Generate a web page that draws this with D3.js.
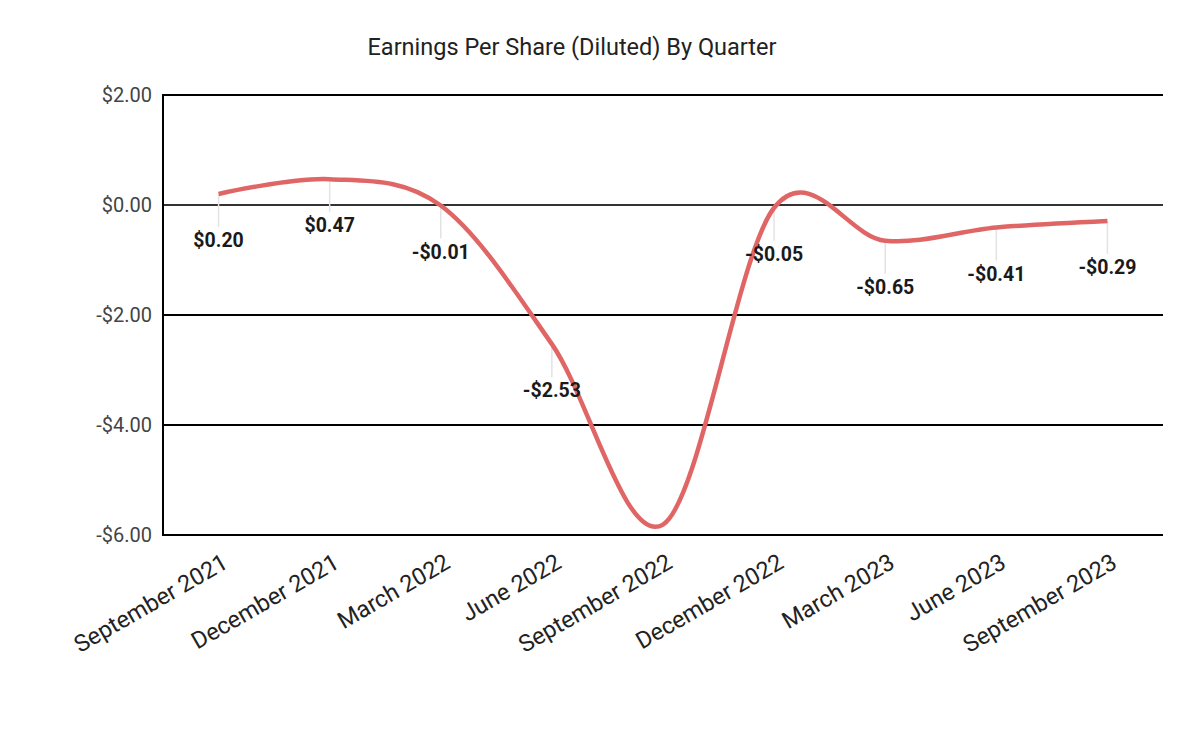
<!DOCTYPE html>
<html>
<head>
<meta charset="utf-8">
<script src="https://cdn.jsdelivr.net/npm/d3@7"></script>
<style>
  body { margin: 0; background: #fff; }
  text { font-family: Roboto, "Noto Sans", sans-serif; }
</style>
</head>
<body>
<div id="chart"></div>
<script>
const quarters = ["September 2021", "December 2021", "March 2022", "June 2022", "September 2022",
                  "December 2022", "March 2023", "June 2023", "September 2023"];
const eps = [0.20, 0.47, -0.01, -2.53, -5.81, -0.05, -0.65, -0.41, -0.29];
const yTicks = [2, 0, -2, -4, -6];

const width = 1200, height = 741;
const margin = { top: 95, right: 37, bottom: 206, left: 163 };
const innerW = width - margin.left - margin.right;
const innerH = height - margin.top - margin.bottom;

const svg = d3.select("#chart").append("svg")
    .attr("width", width)
    .attr("height", height);

svg.append("text")
    .attr("x", 572)
    .attr("y", 55)
    .attr("text-anchor", "middle")
    .attr("font-size", 23.5)
    .attr("fill", "#222")
    .text("Earnings Per Share (Diluted) By Quarter");

const g = svg.append("g").attr("transform", `translate(${margin.left},${margin.top})`);

const x = d3.scaleBand().domain(quarters).range([0, innerW]);
const y = d3.scaleLinear().domain([-6, 2]).range([innerH, 0]);

const money = v => (v < 0 ? "-$" : "$") + Math.abs(v).toFixed(2);

// gridlines
g.selectAll(".grid")
    .data(yTicks)
    .enter()
    .append("line")
    .attr("class", "grid")
    .attr("x1", 0)
    .attr("x2", innerW)
    .attr("y1", d => y(d))
    .attr("y2", d => y(d))
    .attr("stroke", d => d === 0 ? "#333" : "#000")
    .attr("stroke-width", 2);

g.append("line")
    .attr("x1", 0).attr("x2", 0)
    .attr("y1", y(2) - 1).attr("y2", y(-6) + 1)
    .attr("stroke", "#000")
    .attr("stroke-width", 2);

// y axis labels
const yAxis = g.append("g")
    .call(d3.axisLeft(y).tickValues(yTicks).tickSize(0).tickPadding(11).tickFormat(money));
yAxis.select(".domain").remove();
yAxis.selectAll("text")
    .attr("font-size", 20)
    .attr("fill", "#444")
    .attr("font-family", "Roboto, sans-serif");

// x axis labels
const xAxis = g.append("g")
    .attr("transform", `translate(0,${innerH})`)
    .call(d3.axisBottom(x).tickSize(0).tickPadding(0));
xAxis.select(".domain").remove();
xAxis.selectAll("text")
    .attr("font-size", 23.5)
    .attr("fill", "#222")
    .attr("font-family", "Roboto, sans-serif")
    .attr("text-anchor", "end")
    .attr("dy", 0)
    .attr("transform", "translate(11,32) rotate(-30)");

const cx = d => x(d) + x.bandwidth() / 2;
const pts = quarters.map((q, i) => ({ q, v: eps[i] }));

// data label leader lines and labels
const labelled = pts.filter(d => y(d.v) + 53 < innerH);

g.selectAll(".leader")
    .data(labelled)
    .enter()
    .append("line")
    .attr("class", "leader")
    .attr("x1", d => cx(d.q))
    .attr("x2", d => cx(d.q))
    .attr("y1", d => y(d.v))
    .attr("y2", d => y(d.v) + 33)
    .attr("stroke", "#e3e3e3")
    .attr("stroke-width", 1.5);

// curve
const line = d3.line()
    .x(d => cx(d.q))
    .y(d => y(d.v))
    .curve(d3.curveCardinal.tension(0));

g.append("path")
    .datum(pts)
    .attr("d", line)
    .attr("fill", "none")
    .attr("stroke", "#e06666")
    .attr("stroke-width", 4.5);

g.selectAll(".lbl")
    .data(labelled)
    .enter()
    .append("text")
    .attr("class", "lbl")
    .attr("x", d => cx(d.q))
    .attr("y", d => y(d.v) + 53)
    .attr("text-anchor", "middle")
    .attr("font-size", 19.5)
    .attr("font-weight", "bold")
    .attr("fill", "#1a1a1a")
    .text(d => money(d.v));
</script>
</body>
</html>
